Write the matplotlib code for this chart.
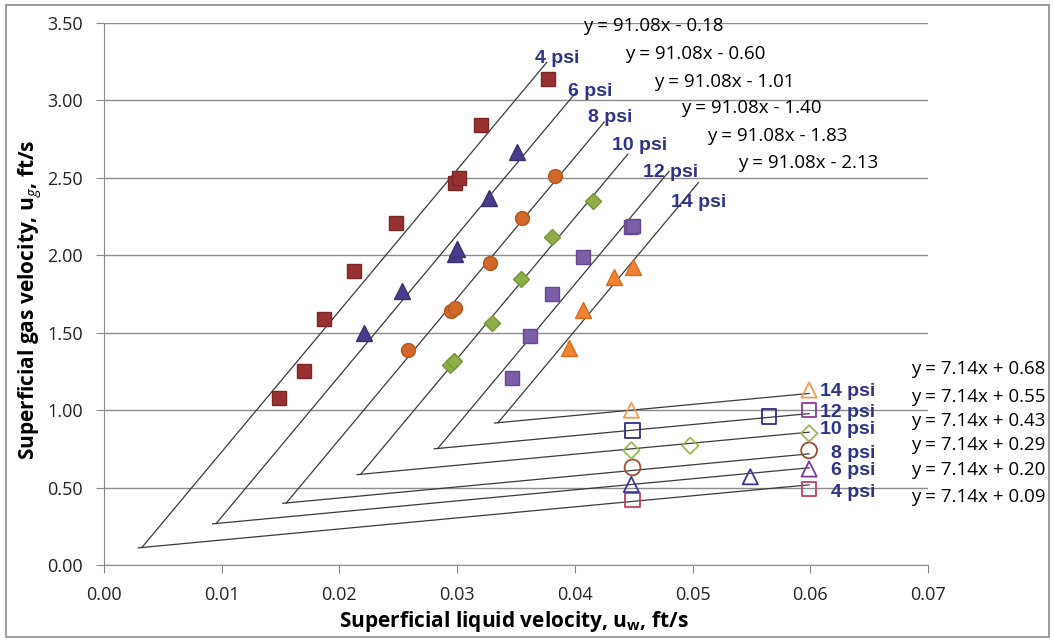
import matplotlib
matplotlib.use("Agg")
import matplotlib.pyplot as plt
from matplotlib.patches import Rectangle
import numpy as np

# filled markers: upper (steep) data
x_4 = [0.0149, 0.0170, 0.0187, 0.0212, 0.0248, 0.0298, 0.0302, 0.0320, 0.0377]
y_4 = [1.08, 1.25, 1.59, 1.90, 2.21, 2.47, 2.50, 2.84, 3.14]
x_6 = [0.0221, 0.0253, 0.0298, 0.0300, 0.0327, 0.0351]
y_6 = [1.50, 1.77, 2.01, 2.04, 2.37, 2.67]
x_8 = [0.0258, 0.0295, 0.0298, 0.0328, 0.0355, 0.0383]
y_8 = [1.39, 1.64, 1.66, 1.95, 2.24, 2.51]
x_10 = [0.0294, 0.0297, 0.0330, 0.0354, 0.0381, 0.0415]
y_10 = [1.29, 1.32, 1.56, 1.85, 2.12, 2.35]
x_12 = [0.0347, 0.0362, 0.0381, 0.0407, 0.0448, 0.0449]
y_12 = [1.21, 1.48, 1.75, 1.99, 2.18, 2.19]
x_14 = [0.0395, 0.0407, 0.0433, 0.0449]
y_14 = [1.40, 1.645, 1.86, 1.925]

# open markers: lower (flat) data
xo_4 = [0.0449, 0.0599]
yo_4 = [0.42, 0.49]
xo_6 = [0.0448, 0.0549, 0.0599]
yo_6 = [0.52, 0.57, 0.62]
xo_8 = [0.0449, 0.0599]
yo_8 = [0.63, 0.74]
xo_10 = [0.0448, 0.0498, 0.0599]
yo_10 = [0.74, 0.77, 0.85]
xo_12 = [0.0449, 0.0565, 0.0599]
yo_12 = [0.87, 0.96, 1.00]
xo_14 = [0.0448, 0.0599]
yo_14 = [1.00, 1.13]

psi_labels = ["4 psi", "6 psi", "8 psi", "10 psi", "12 psi", "14 psi"]
steep_slope = 91.08
steep_icpt = [-0.18, -0.60, -1.01, -1.40, -1.83, -2.13]
steep_xend = [0.0376, 0.0402, 0.0425, 0.0445, 0.0480, 0.0505]
flat_slope = 7.14
flat_icpt = [0.09, 0.20, 0.29, 0.43, 0.55, 0.68]
flat_xend = [0.0599, 0.0599, 0.0599, 0.0599, 0.0599, 0.0599]

plt.rcParams["font.family"] = ["Open Sans", "DejaVu Sans"]
plt.rcParams["mathtext.fontset"] = "custom"
plt.rcParams["mathtext.rm"] = "Open Sans"
plt.rcParams["mathtext.bf"] = "Open Sans:bold"
plt.rcParams["mathtext.it"] = "Open Sans:italic"

fig = plt.figure(figsize=(10.53, 6.38), dpi=100)
ax = fig.add_axes([104 / 1053, 1 - 565 / 638, 824 / 1053, 542 / 638])

line_col = "#3a3a3a"
for a, xe, b in zip(steep_icpt, steep_xend, flat_icpt):
    xv = (b - a) / (steep_slope - flat_slope)
    xs = np.array([xv, xe])
    ax.plot(xs, steep_slope * xs + a, color=line_col, lw=0.9, zorder=2)
for a, b, xe in zip(steep_icpt, flat_icpt, flat_xend):
    xv = (b - a) / (steep_slope - flat_slope)
    xs = np.array([xv - 0.0003, xe])
    ax.plot(xs, flat_slope * xs + b, color=line_col, lw=0.9, zorder=2)

ms = 10
ax.plot(x_4, y_4, "s", color="#983232", mec="#7a2626", ms=ms, zorder=3)
ax.plot(x_6, y_6, "^", color="#4a3c8c", mec="#3a2f70", ms=ms + 1, zorder=3)
ax.plot(x_8, y_8, "o", color="#d2692a", mec="#b05a20", ms=ms, zorder=3)
ax.plot(x_10, y_10, "D", color="#8fae48", mec="#78943a", ms=ms - 2, zorder=3)
ax.plot(x_12, y_12, "s", color="#7b5ea7", mec="#64498c", ms=ms, zorder=3)
ax.plot(x_14, y_14, "^", color="#f08232", mec="#d86e20", ms=ms + 1, zorder=3)

ax.scatter(xo_4, yo_4, marker="s", s=110, facecolors="none", edgecolors="#c0405a", lw=1.3, zorder=3)
ax.scatter(xo_6, yo_6, marker="^", s=120, facecolors="none", edgecolors=["#3f3a9a", "#3a3a90", "#7a3aa0"], lw=1.3, zorder=3)
ax.scatter(xo_8, yo_8, marker="o", s=130, facecolors="none", edgecolors="#a04a34", lw=1.3, zorder=3)
ax.scatter(xo_10, yo_10, marker="D", s=70, facecolors="none", edgecolors="#9ab85a", lw=1.3, zorder=3)
ax.scatter(xo_12, yo_12, marker="s", s=110, facecolors="none", edgecolors=["#2b2f86", "#2b2f86", "#8e3c9e"], lw=1.3, zorder=3)
ax.scatter(xo_14, yo_14, marker="^", s=120, facecolors="none", edgecolors="#f59a50", lw=1.3, zorder=3)

# labels for steep lines
lab_col = "#2e3388"
up_lab_xy = [(0.0385, 3.273), (0.0413, 3.060), (0.0430, 2.892), (0.0455, 2.711), (0.0481, 2.537), (0.0505, 2.343)]
up_eq_xy = [(0.0467, 3.480), (0.0502, 3.299), (0.0527, 3.118), (0.0550, 2.950), (0.0572, 2.770), (0.0598, 2.595)]
for lab, (lx, ly), a, (ex, ey) in zip(psi_labels, up_lab_xy, steep_icpt, up_eq_xy):
    ax.text(lx, ly, lab, color=lab_col, fontsize=14, fontweight="bold",
            family="Liberation Sans", ha="center", va="center", zorder=4)
    ax.text(ex, ey, "y = %.2fx - %.2f" % (steep_slope, -a), fontsize=13.5,
            ha="center", va="center", zorder=4)

# labels for flat lines
low_lab_y = [0.471, 0.613, 0.717, 0.872, 0.988, 1.123]
low_eq_y = [0.439, 0.613, 0.775, 0.930, 1.085, 1.265]
for lab, ly, b, ey in zip(psi_labels, low_lab_y, flat_icpt, low_eq_y):
    ax.text(0.0655, ly, lab, color=lab_col, fontsize=14, fontweight="bold",
            family="Liberation Sans", ha="right", va="center", zorder=4)
    ax.text(0.0686, ey, "y = %.2fx + %.2f" % (flat_slope, b), fontsize=13.5,
            ha="left", va="center", zorder=4)

ax.set_xlim(0, 0.07)
ax.set_ylim(0, 3.5)
ax.set_xticks(np.arange(0, 0.0701, 0.01))
ax.set_yticks(np.arange(0, 3.51, 0.5))
ax.set_xticklabels(["%.2f" % v for v in np.arange(0, 0.0701, 0.01)])
ax.set_yticklabels(["%.2f" % v for v in np.arange(0, 3.51, 0.5)])
ax.tick_params(labelsize=13, length=6, color="#888888", pad=9, labelcolor="#222222")
ax.yaxis.grid(True, color="#8c8c8c", lw=1.0)
ax.set_axisbelow(True)
for s in ["top", "right"]:
    ax.spines[s].set_visible(False)
for s in ["left", "bottom"]:
    ax.spines[s].set_color("#8c8c8c")

fig.text(0.488, 0.026, r"Superficial liquid velocity, u$_\mathbf{w}$, ft/s",
         fontsize=15, fontweight="bold", ha="center", va="center")
fig.text(0.029, 0.53, r"Superficial gas velocity, u$_\mathit{g}$, ft/s",
         fontsize=15, fontweight="bold", ha="center", va="center", rotation=90)

fig.patches.append(Rectangle((0.0057, 0.0016), 0.9905, 0.9906, transform=fig.transFigure,
                             fill=False, edgecolor="#8c8c8c", lw=1.2))

fig.savefig("out.png", dpi=100)
